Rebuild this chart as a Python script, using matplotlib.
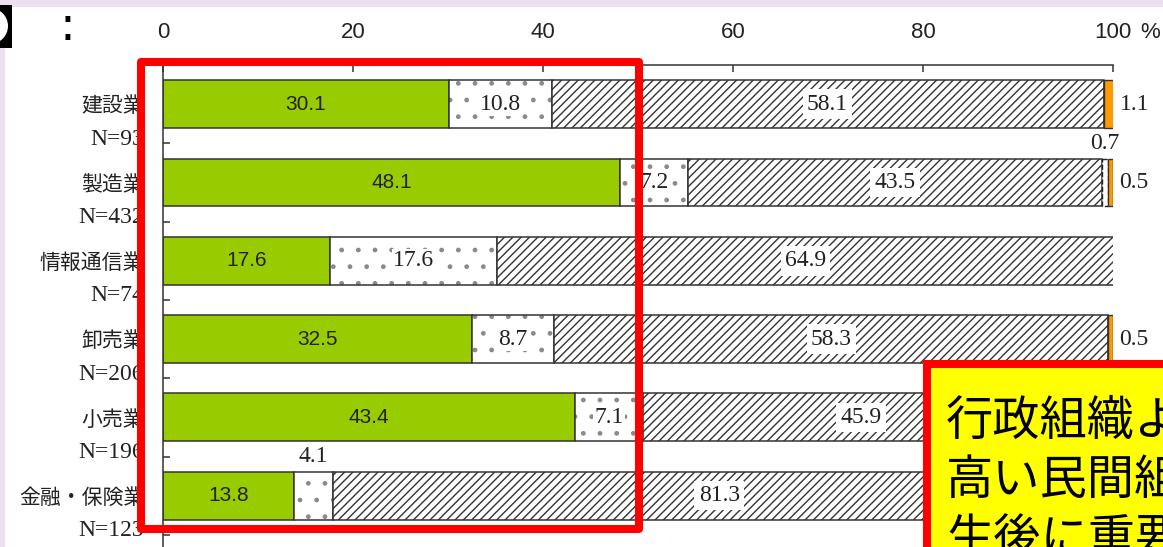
import matplotlib
matplotlib.use("Agg")
import matplotlib.pyplot as plt
import numpy as np
from matplotlib.patches import Rectangle, Ellipse

# industries (top to bottom) and sample sizes
categories = ["建設業", "製造業", "情報通信業", "卸売業", "小売業", "金融・保険業"]
n_counts = [93, 432, 74, 206, 196, 123]

# shares in %, one list per answer category
green = [30.1, 48.1, 17.6, 32.5, 43.4, 13.8]
dotted = [10.8, 7.2, 17.6, 8.7, 7.1, 4.1]
hatched = [58.1, 43.5, 64.9, 58.3, 45.9, 81.3]
small_white = [0.0, 0.7, 0.0, 0.0, 1.5, 0.4]
orange = [1.1, 0.5, 0.0, 0.5, 2.1, 0.4]

xticks = [0, 20, 40, 60, 80, 100]
box_lines = ["行政組織よ", "高い民間組", "生後に重要"]
covered_rows = [4, 5]   # right ends of these rows sit under the yellow box

W, H = 1163, 547
def fx(px):
    return px / W
def fy(py):
    return 1 - py / H

jp = ["Noto Sans CJK JP", "DejaVu Sans"]
serif = "Liberation Serif"
sans = "Liberation Sans"

fig = plt.figure(figsize=(W / 100, H / 100), dpi=100, facecolor="#eedff0")
fig.add_artist(Rectangle((fx(5), 0), 1, fy(7), transform=fig.transFigure,
                         facecolor="white", edgecolor="none", zorder=-5))

# axes: x 0 -> 163px, 100 -> 1113px ; rows 78.3px apart, top at 65px
ax = fig.add_axes([fx(163), fy(65) - 7 * 78.3 / H, 950 / W, 7 * 78.3 / H])
ax.set_facecolor("none")
ax.set_xlim(0, 100)
ax.set_ylim(6.5, -0.5)

y = np.arange(len(categories))
bh = 0.61
left = np.zeros(len(categories))
ax.barh(y, green, left=left, height=bh, color="#99cc00", edgecolor="#333333", linewidth=1.1)
left += green
# dotted fill: light dots, then a dark outline on top
ax.barh(y, dotted, left=left, height=bh, color="white", edgecolor="#8a8a8a", linewidth=0, hatch=".")
ax.barh(y, dotted, left=left, height=bh, fill=False, edgecolor="#333333", linewidth=1.1)
left += dotted
plt.rcParams["hatch.linewidth"] = 1.0
ax.barh(y, hatched, left=left, height=bh, color="white", edgecolor="#333333", linewidth=1.1, hatch="////")
left += hatched
ax.barh(y, small_white, left=left, height=bh, color="white", edgecolor="#222222", linewidth=1.0, linestyle="--")
left += small_white
ax.barh(y, orange, left=left, height=bh, color="#ff9900", edgecolor="#333333", linewidth=1.0)

# value labels
for i in range(len(categories)):
    ax.text(green[i] / 2, i, f"{green[i]:.1f}", ha="center", va="center",
            fontsize=15, family=sans, color="#222222")
    d0 = green[i]
    if dotted[i] >= 5:
        ax.text(d0 + dotted[i] / 2, i, f"{dotted[i]:.1f}", ha="center", va="center",
                fontsize=17, family=serif, color="#222222",
                bbox=dict(facecolor="white", edgecolor="none", pad=1))
    else:
        ax.text(d0 + dotted[i] / 2, i - 0.5, f"{dotted[i]:.1f}", ha="center", va="center",
                fontsize=17, family=serif, color="#222222")
    h0 = d0 + dotted[i]
    ax.text(h0 + hatched[i] / 2, i, f"{hatched[i]:.1f}", ha="center", va="center",
            fontsize=17, family=serif, color="#222222",
            bbox=dict(facecolor="white", edgecolor="none", pad=3))
    if i in covered_rows:
        continue
    s0 = h0 + hatched[i]
    if small_white[i] > 0:
        ax.text(s0 + small_white[i] / 2, i - 0.5, f"{small_white[i]:.1f}", ha="center",
                va="center", fontsize=17, family=serif, color="#222222")
    o0 = s0 + small_white[i]
    if orange[i] > 0:
        ax.text(o0 + orange[i] + 0.6, i, f"{orange[i]:.1f}", ha="left", va="center",
                fontsize=17, family=serif, color="#222222")

# category labels (partly hidden under the red frame, like the source)
for i, (name, n) in enumerate(zip(categories, n_counts)):
    ax.text(-2.0, i + 0.03, name, ha="right", va="center", fontsize=15,
            family=jp, color="#222222", clip_on=False)
    ax.text(-2.0, i + 0.45, f"N={n}", ha="right", va="center", fontsize=17,
            family=serif, color="#222222", clip_on=False)

# axis styling
for side in ["right", "bottom"]:
    ax.spines[side].set_visible(False)
for side in ["left", "top"]:
    ax.spines[side].set_color("#333333")
    ax.spines[side].set_linewidth(1.1)
ax.xaxis.tick_top()
ax.set_xticks(xticks)
ax.set_xticklabels([str(t) for t in xticks], family=sans, fontsize=16, color="#222222")
ax.tick_params(axis="x", direction="in", length=5, width=1.1, color="#333333", pad=16)
ax.set_yticks(np.arange(len(categories)) + 0.5)
ax.set_yticklabels([])
ax.tick_params(axis="y", direction="in", length=5, width=1.1, color="#333333")
fig.text(fx(1150), fy(33), "%", ha="center", va="center", family=sans, fontsize=16, color="#222222")

# decorations from the slide
fig.text(fx(67), fy(27), ":", ha="center", va="center", fontsize=34, color="black")
fig.add_artist(Rectangle((0, fy(48)), fx(12), fy(5) - fy(48), transform=fig.transFigure,
                         facecolor="black", edgecolor="none"))
fig.add_artist(Ellipse((fx(-10), fy(26)), fx(36), 36 / H, transform=fig.transFigure,
                       facecolor="white", edgecolor="none"))

# red highlight frame
fig.add_artist(Rectangle((fx(141), fy(529)), fx(639) - fx(141), fy(62) - fy(529),
                         transform=fig.transFigure, facecolor="none", edgecolor="#ff0000",
                         linewidth=5.8, joinstyle="round"))

# yellow call-out box
fig.add_artist(Rectangle((fx(927), fy(620)), fx(1250) - fx(927), fy(364) - fy(620),
                         transform=fig.transFigure, facecolor="#ffff00", edgecolor="#ff0000",
                         linewidth=5.8))
for k, line in enumerate(box_lines):
    fig.text(fx(946), fy(422 + 59 * k), line, ha="left", va="center", fontsize=34,
             family=jp, color="black")

fig.savefig("out.png", dpi=100)
